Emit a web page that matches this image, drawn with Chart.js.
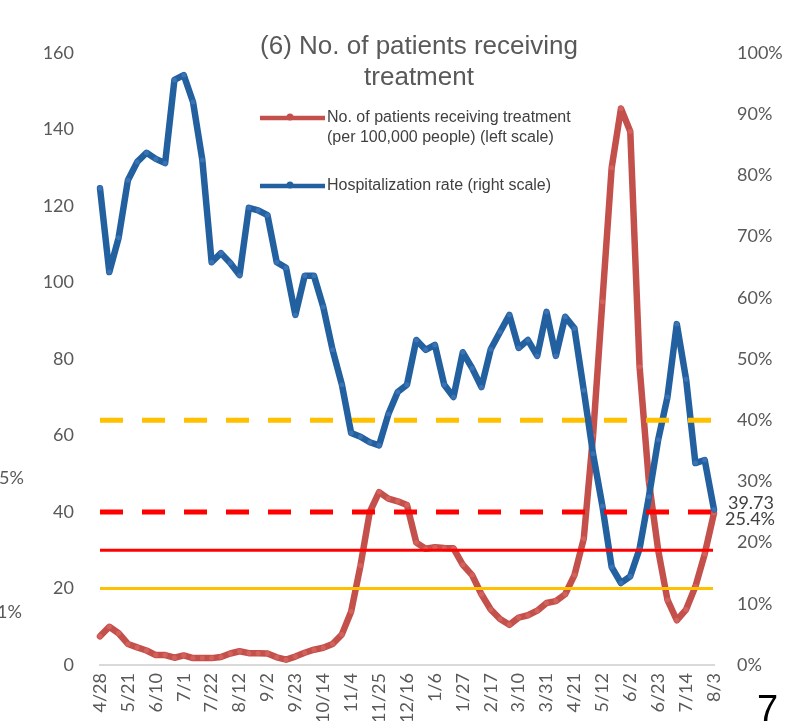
<!DOCTYPE html>
<html>
<head>
<meta charset="utf-8">
<script src="https://cdn.jsdelivr.net/npm/chart.js@4.4.1/dist/chart.umd.min.js"></script>
<style>
  html, body { margin: 0; padding: 0; background: #fff; overflow: hidden; }
  #wrap { position: absolute; left: 0; top: 0; width: 802px; height: 760px; }
</style>
</head>
<body>
<div id="wrap"><canvas id="chart" width="802" height="760"></canvas></div>
<script>
// weekly reporting dates, a label is shown on every 3rd one
const dates = [
  '4/28', '5/7', '5/14', '5/21', '5/28', '6/3', '6/10', '6/17', '6/24', '7/1',
  '7/8', '7/15', '7/22', '7/29', '8/5', '8/12', '8/19', '8/26', '9/2', '9/9',
  '9/16', '9/23', '9/30', '10/7', '10/14', '10/21', '10/28', '11/4', '11/11', '11/18',
  '11/25', '12/2', '12/9', '12/16', '12/23', '12/30', '1/6', '1/13', '1/20', '1/27',
  '2/3', '2/10', '2/17', '2/24', '3/3', '3/10', '3/17', '3/24', '3/31', '4/7',
  '4/14', '4/21', '4/28', '5/5', '5/12', '5/19', '5/26', '6/2', '6/9', '6/16',
  '6/23', '6/30', '7/7', '7/14', '7/21', '7/28', '8/3'
];
const labelEvery = 3;

// patients receiving treatment per 100,000 people (left scale)
const patients = [
  7.5, 10.0, 8.3, 5.5, 4.6, 3.8, 2.6, 2.6, 1.9, 2.5,
  1.8, 1.8, 1.8, 2.1, 3.0, 3.6, 3.1, 3.1, 3.0, 2.0,
  1.4, 2.2, 3.2, 4.0, 4.5, 5.5, 8.0, 14.0, 26.0, 40.0,
  45.2, 43.5, 42.8, 41.8, 32.0, 30.4, 30.8, 30.6, 30.5, 26.2,
  23.5, 18.5, 14.5, 12.0, 10.5, 12.4, 13.0, 14.2, 16.2, 16.7,
  18.5, 23.5, 33.0, 60.0, 95.0, 130.0, 145.5, 139.5, 78.0, 48.0,
  30.0, 17.0, 11.7, 14.5, 20.5, 29.0, 39.73
];

// hospitalization rate in % (right scale)
const hospRate = [
  77.9, 64.2, 69.8, 79.2, 82.2, 83.7, 82.7, 82.0, 95.6, 96.4,
  92.0, 82.5, 65.8, 67.3, 65.7, 63.7, 74.7, 74.3, 73.5, 65.8,
  64.9, 57.2, 63.6, 63.6, 58.5, 51.5, 45.8, 37.9, 37.3, 36.4,
  35.9, 41.0, 44.6, 45.8, 53.1, 51.5, 52.3, 45.8, 43.8, 51.1,
  48.5, 45.4, 51.6, 54.4, 57.2, 51.8, 53.1, 50.5, 57.7, 50.5,
  56.9, 55.0, 44.9, 34.5, 26.0, 16.0, 13.4, 14.5, 19.0, 27.5,
  36.8, 43.8, 55.7, 46.7, 33.0, 33.5, 25.4
];

// stage indicator levels
const rateLevels = [40, 25];      // hospitalization rate %, dashed
const patientLevels = [20, 30];   // patients per 100,000, solid

const titleLines = ['(6) No. of patients receiving', 'treatment'];
const patientsLegend = ['No. of patients receiving treatment', '(per 100,000 people) (left scale)'];
const rateLegend = ['Hospitalization rate (right scale)'];

const RED = '#C4504C';
const BLUE = '#23609F';
const GREY = '#595959';
const TICK_FONT = { family: 'Lato', size: 18 };

const decor = {
  id: 'decor',
  afterDatasetsDraw(chart) {
    const { ctx, chartArea: a, scales } = chart;
    const x0 = a.left, x1 = a.right - 1;
    ctx.save();
    // dashed: yellow 40%, red 25%
    const dashCols = ['#FFC000', '#FF0000'];
    rateLevels.forEach((v, i) => {
      const y = scales.yRight.getPixelForValue(v);
      ctx.strokeStyle = dashCols[i];
      ctx.lineWidth = 5;
      ctx.setLineDash([23, 19]);
      ctx.beginPath(); ctx.moveTo(x0, y); ctx.lineTo(x1, y); ctx.stroke();
    });
    // solid: yellow 20, red 30
    const solidCols = ['#FFC000', '#FF0000'];
    ctx.setLineDash([]);
    patientLevels.forEach((v, i) => {
      const y = scales.yLeft.getPixelForValue(v);
      ctx.strokeStyle = solidCols[i];
      ctx.lineWidth = 3;
      ctx.beginPath(); ctx.moveTo(x0, y); ctx.lineTo(x1, y); ctx.stroke();
    });
    ctx.restore();
  },
  afterDraw(chart) {
    const { ctx, chartArea: a, scales } = chart;
    ctx.save();

    // title
    ctx.fillStyle = GREY;
    ctx.font = '26px "Liberation Sans", Arial, sans-serif';
    ctx.textAlign = 'center';
    ctx.textBaseline = 'middle';
    titleLines.forEach((t, i) => ctx.fillText(t, 419, 47 + i * 31));

    // legend
    const items = [
      { lines: patientsLegend, color: RED, y: 118 },
      { lines: rateLegend, color: BLUE, y: 186 }
    ];
    ctx.font = '16px "Liberation Sans", Arial, sans-serif';
    ctx.textAlign = 'left';
    items.forEach(it => {
      ctx.strokeStyle = it.color;
      ctx.lineWidth = 4.5;
      ctx.beginPath(); ctx.moveTo(260, it.y); ctx.lineTo(325, it.y); ctx.stroke();
      ctx.fillStyle = it.color;
      ctx.beginPath(); ctx.arc(290, it.y - 1, 3.5, 0, Math.PI * 2); ctx.fill();
      ctx.fillStyle = '#404040';
      it.lines.forEach((t, i) => ctx.fillText(t, 327, it.y + i * 20));
    });

    // end-of-series labels
    const last = dates.length - 1;
    ctx.fillStyle = '#404040';
    ctx.font = '18px Lato, sans-serif';
    ctx.textAlign = 'right';
    ctx.fillText(String(patients[last]), a.right + 60, scales.yLeft.getPixelForValue(patients[last]) - 10);
    ctx.fillText(hospRate[last].toFixed(1) + '%', a.right + 61, scales.yRight.getPixelForValue(hospRate[last]) + 10);

    // fragments of the neighbouring chart and page number
    ctx.fillStyle = GREY;
    ctx.textAlign = 'left';
    ctx.fillText('5%', -1, 478);
    ctx.fillText('1%', -3, 612);
    ctx.fillStyle = '#000';
    ctx.font = '38px "Liberation Sans", Arial, sans-serif';
    ctx.textBaseline = 'alphabetic';
    ctx.fillText('7', 757, 722);
    ctx.restore();
  }
};

const ctx = document.getElementById('chart').getContext('2d');

new Chart(ctx, {
  type: 'line',
  data: {
    labels: dates,
    datasets: [{
      label: patientsLegend.join(' '),
      data: patients,
      yAxisID: 'yLeft',
      borderColor: RED,
      backgroundColor: RED,
      pointBackgroundColor: '#D3625D',
      borderWidth: 6.5,
      pointRadius: 2.5,
      pointBorderWidth: 0,
      borderJoinStyle: 'round',
      borderCapStyle: 'round',
      tension: 0,
      order: 2
    }, {
      label: rateLegend[0],
      data: hospRate,
      yAxisID: 'yRight',
      borderColor: BLUE,
      backgroundColor: BLUE,
      pointBackgroundColor: '#3A72B5',
      borderWidth: 6.5,
      pointRadius: 2.5,
      pointBorderWidth: 0,
      borderJoinStyle: 'round',
      borderCapStyle: 'round',
      tension: 0,
      order: 1
    }]
  },
  options: {
    responsive: false,
    animation: false,
    layout: { padding: { top: 53, left: 0, right: 0, bottom: 0 } },
    plugins: {
      legend: { display: false },
      tooltip: { enabled: false }
    },
    scales: {
      x: {
        grid: { display: false, drawTicks: false },
        border: { display: true, color: '#D9D9D9', width: 2 },
        ticks: {
          autoSkip: false,
          minRotation: 90,
          maxRotation: 90,
          padding: 8,
          color: GREY,
          font: TICK_FONT,
          callback: (v, i) => (i % labelEvery === 0 ? dates[i] : '')
        },
        afterFit: s => { s.height = 95; }
      },
      yLeft: {
        position: 'left',
        min: 0,
        max: 160,
        grid: { display: false, drawTicks: false },
        border: { display: false },
        ticks: { stepSize: 20, padding: 26, color: GREY, font: TICK_FONT },
        afterFit: s => { s.width = 100; }
      },
      yRight: {
        position: 'right',
        min: 0,
        max: 100,
        grid: { display: false, drawTicks: false },
        border: { display: false },
        ticks: { stepSize: 10, padding: 23, color: GREY, font: TICK_FONT, callback: v => v + '%' },
        afterFit: s => { s.width = 88; }
      }
    }
  },
  plugins: [decor]
});
</script>
</body>
</html>
